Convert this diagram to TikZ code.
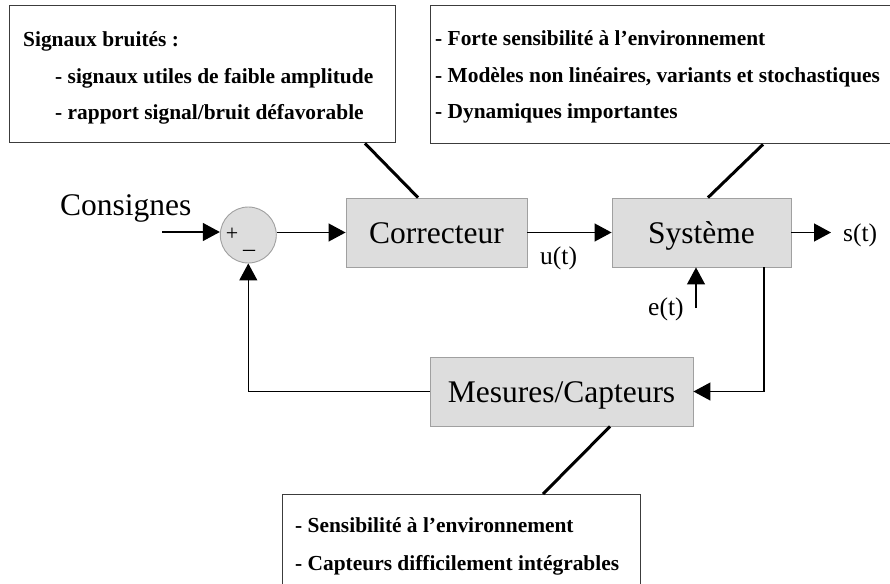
\documentclass[tikz,border=0pt]{standalone}
\usepackage{fontspec}
\setmainfont{Liberation Serif}
\usetikzlibrary{arrows.meta}
\definecolor{blockfill}{RGB}{221,221,221}
\definecolor{blockborder}{RGB}{160,160,160}
\definecolor{noteborder}{RGB}{60,60,60}
\begin{document}
\begin{tikzpicture}[x=1pt,y=-1pt,
  block/.style={draw=blockborder, fill=blockfill, line width=0.9pt, rectangle,
    minimum height=69pt, inner sep=0pt, text height=21pt, text depth=0pt,
    font=\fontsize{31.5}{36}\selectfont},
  sumnode/.style={circle, draw=blockborder, fill=blockfill, line width=0.9pt,
    minimum size=56pt, inner sep=0pt},
  notebox/.style={draw=noteborder, fill=white, line width=1.4pt, rectangle,
    inner sep=0pt, anchor=north west},
  notetext/.style={anchor=base west, inner sep=0pt,
    font=\fontsize{21.4}{26}\selectfont\bfseries},
  biglabel/.style={anchor=base west, inner sep=0pt, font=\fontsize{31.5}{36}\selectfont},
  siglabel/.style={anchor=base west, inner sep=0pt, font=\fontsize{25.5}{30}\selectfont},
  arr/.style={line width=1.2pt, -{Triangle[length=17pt,width=18pt]}},
  wire/.style={line width=1.2pt},
  noteline/.style={line width=3pt}]
\useasboundingbox (0,0) rectangle (890,583);
\clip (0,0) rectangle (890,583);

% annotation boxes
\node[notebox, minimum width=386pt, minimum height=137pt] (n1) at (9,5) {};
\node[notebox, minimum width=470pt, minimum height=138pt] (n2) at (430,5) {};
\node[notebox, minimum width=358pt, minimum height=100pt] (n3) at (282,494) {};

\node[notetext] (n1a) at (23,47) {Signaux bruités :};
\node[notetext] (n1b) at (55,84) {- signaux utiles de faible amplitude};
\node[notetext] (n1c) at (55,119) {- rapport signal/bruit défavorable};

\node[notetext] (n2a) at (435,46) {- Forte sensibilité à l’environnement};
\node[notetext] (n2b) at (435,83) {- Modèles non linéaires, variants et stochastiques};
\node[notetext] (n2c) at (435,118) {- Dynamiques importantes};

\node[notetext] (n3a) at (295,532) {- Sensibilité à l’environnement};
\node[notetext] (n3b) at (295,570) {- Capteurs difficilement intégrables};

% blocks
\node[block, minimum width=181pt] (corr) at (436.5,232.5) {Correcteur};
\node[block, minimum width=179pt] (sys) at (701.5,232.5) {Système};
\node[block, minimum width=263pt] (mes) at (561.5,391.5) {Mesures/Capteurs};
\node[sumnode] (sum) at (248.3,235) {};
\node[inner sep=0pt, font=\fontsize{22}{24}\selectfont] (plus) at (232,234) {+};
\node[inner sep=0pt, font=\fontsize{24}{24}\selectfont] (minus) at (249,253) {–};

% labels
\node[biglabel] (cons) at (60,215) {Consignes};
\node[siglabel] (ut) at (540,264) {u(t)};
\node[siglabel] (st) at (843,241) {s(t)};
\node[siglabel] (et) at (648,315) {e(t)};

% coordinates
\coordinate (cin) at (162,232);
\coordinate (sout) at (831,232.5);
\coordinate (ein) at (696,308);
\coordinate (fb) at (764,391.5);
\coordinate (fb2) at (248.3,391.5);
\coordinate (l1x) at (365,0);
\coordinate (l1y) at (418,0);
\coordinate (l2x) at (763,0);
\coordinate (l2y) at (708,0);
\coordinate (l3x) at (610,0);
\coordinate (l3y) at (543,0);

% connectors
\draw[arr] (cin) -- (cin -| sum.west);
\draw[arr] (corr.west -| sum.east) -- (corr.west);
\draw[arr] (corr.east) -- (sys.west);
\draw[arr] (sys.east) -- (sout);
\draw[arr] (ein) -- (ein |- sys.south);
\draw[wire] (sys.south -| fb) -- (fb);
\draw[arr] (fb) -- (mes.east);
\draw[wire] (mes.west) -- (fb2);
\draw[arr] (fb2) -- (sum.south);

% annotation links
\draw[noteline] (n1.south -| l1x) -- (corr.north -| l1y);
\draw[noteline] (n2.south -| l2x) -- (sys.north -| l2y);
\draw[noteline] (mes.south -| l3x) -- (n3.north -| l3y);
\end{tikzpicture}
\end{document}
